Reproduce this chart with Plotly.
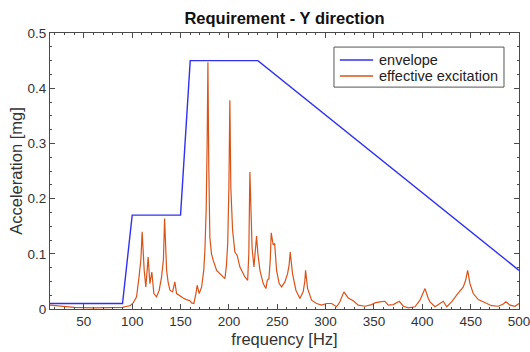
import plotly.graph_objects as go

# Requirement envelope (Y direction)
env_freq = [15, 90, 100, 150, 160, 230, 500]
env_acc = [0.01, 0.01, 0.17, 0.17, 0.45, 0.45, 0.07]

# Effective excitation spectrum
exc_freq = [15, 25, 40, 60, 80, 90, 95, 98, 101, 104.5, 107.2, 109, 110.3, 111.5, 112.4,
            114.1, 116.5, 118.3, 120.3, 122.4, 125.2, 127.9, 130.4, 132.3, 133.5, 134.7,
            135.6, 137.2, 139, 141.8, 144.1, 145.9, 149, 152.7, 156, 159.7, 161.4, 163.8,
            165.9, 167.2, 168.3, 169.3, 171.8, 174, 175.2, 176.5, 177.5, 178.3, 179.2,
            180.3, 182, 183.8, 187.3, 192.4, 195.9, 197.5, 198.8, 200, 201, 202, 203.8,
            206.2, 208.6, 211.4, 216.6, 219.4, 220.6, 221.7, 222.6, 224, 225.9, 227.5,
            228.6, 230, 232.1, 235.5, 238.3, 239.7, 241.4, 242.8, 243.8, 245.8, 247.3,
            249.3, 252, 254.5, 257.9, 260.7, 262.3, 263.4, 265, 265.8, 269.3, 273.4,
            276.8, 278.5, 279.3, 280.3, 281.4, 285.5, 290.7, 295.9, 301, 306.2, 311.4,
            314.8, 318.9, 323.4, 328.6, 333.8, 340.7, 347.6, 351, 356.2, 361.4, 364.8,
            370, 376.2, 380.4, 385.5, 392.4, 397.6, 401, 402.8, 406.2, 408, 413.1, 418.3,
            421.7, 425.2, 430.3, 435.5, 440, 442.4, 444.8, 446.9, 449.3, 452.7, 457.9,
            464.8, 471.7, 478.6, 483.8, 486.5, 490.7, 495.9, 500]
exc_acc = [0.007, 0.005, 0.003, 0.002, 0.002, 0.003, 0.005, 0.006, 0.011, 0.022, 0.06, 0.09,
           0.14, 0.10, 0.07, 0.04, 0.094, 0.046, 0.067, 0.028, 0.022, 0.034, 0.058, 0.09,
           0.164, 0.11, 0.07, 0.048, 0.034, 0.031, 0.049, 0.028, 0.024, 0.02, 0.017, 0.015,
           0.011, 0.01, 0.028, 0.043, 0.035, 0.028, 0.04, 0.07, 0.107, 0.18, 0.3, 0.447,
           0.26, 0.13, 0.1, 0.088, 0.07, 0.061, 0.055, 0.08, 0.12, 0.22, 0.378, 0.22,
           0.143, 0.103, 0.097, 0.076, 0.058, 0.052, 0.1, 0.248, 0.17, 0.11, 0.076, 0.11,
           0.132, 0.1, 0.07, 0.046, 0.037, 0.052, 0.055, 0.09, 0.138, 0.116, 0.119, 0.07,
           0.046, 0.04, 0.049, 0.064, 0.08, 0.103, 0.075, 0.064, 0.034, 0.019, 0.031, 0.05,
           0.07, 0.05, 0.037, 0.016, 0.01, 0.007, 0.01, 0.01, 0.004, 0.013, 0.031, 0.02,
           0.015, 0.007, 0.005, 0.008, 0.011, 0.013, 0.014, 0.007, 0.008, 0.014, 0.005,
           0.002, 0.004, 0.016, 0.03, 0.037, 0.019, 0.013, 0.004, 0.01, 0.014, 0.004,
           0.013, 0.025, 0.035, 0.04, 0.052, 0.07, 0.046, 0.028, 0.017, 0.011, 0.006,
           0.005, 0.009, 0.013, 0.007, 0.005, 0.01]

x_ticks = [50, 100, 150, 200, 250, 300, 350, 400, 450, 500]
y_ticks = [0, 0.1, 0.2, 0.3, 0.4, 0.5]

series_names = ["envelope", "effective excitation"]
series_colors = ["#3030f5", "#d95319"]

FONT = "Liberation Sans, Arial, Helvetica, sans-serif"
AXIS_COLOR = "#4a4a4a"

fig = go.Figure()
fig.add_trace(go.Scatter(x=env_freq, y=env_acc, mode="lines", name=series_names[0],
                         line=dict(color=series_colors[0], width=1.4)))
fig.add_trace(go.Scatter(x=exc_freq, y=exc_acc, mode="lines", name=series_names[1],
                         line=dict(color=series_colors[1], width=1.2)))

axis_common = dict(
    showline=True, linecolor=AXIS_COLOR, linewidth=1, mirror="allticks",
    ticks="inside", ticklen=5, tickcolor=AXIS_COLOR, tickwidth=1,
    showgrid=False, zeroline=False, automargin=False, ticklabeloverflow="allow",
    tickfont=dict(family=FONT, size=13.5, color="#333333"),
)

fig.update_xaxes(
    range=[15, 500], tickvals=x_ticks, ticktext=[str(v) for v in x_ticks],
    minor=dict(ticks="inside", dtick=10, ticklen=2, tickcolor=AXIS_COLOR),
    title=dict(text="frequency [Hz]", font=dict(family=FONT, size=16.5, color="#333333"),
               standoff=5),
    **axis_common,
)
fig.update_yaxes(
    range=[0, 0.5], tickvals=y_ticks, ticktext=["0", "0.1", "0.2", "0.3", "0.4", "0.5"],
    minor=dict(ticks="inside", dtick=0.025, ticklen=2, tickcolor=AXIS_COLOR),
    title=dict(text="Acceleration [mg]", font=dict(family=FONT, size=16.5, color="#333333"),
               standoff=0),
    **axis_common,
)

# Boxed legend in the upper right corner of the axes
box_x0, box_x1, box_y0, box_y1 = 0.6055, 0.968, 0.804, 0.949
sample_x0, sample_x1, label_x = 0.618, 0.689, 0.697
row_y = [0.902, 0.844]

fig.add_shape(type="rect", xref="paper", yref="paper",
              x0=box_x0, x1=box_x1, y0=box_y0, y1=box_y1,
              line=dict(color="#555555", width=1), fillcolor="white", layer="above")
for name, color, yy in zip(series_names, series_colors, row_y):
    fig.add_shape(type="line", xref="paper", yref="paper",
                  x0=sample_x0, x1=sample_x1, y0=yy, y1=yy,
                  line=dict(color=color, width=1.4), layer="above")
    fig.add_annotation(xref="paper", yref="paper", x=label_x, y=yy, text=name,
                       showarrow=False, xanchor="left", yanchor="middle",
                       font=dict(family=FONT, size=14.5, color="#222222"))

fig.update_layout(
    width=530, height=352,
    margin=dict(l=50, r=11, t=33, b=43, autoexpand=False),
    paper_bgcolor="white", plot_bgcolor="white",
    title=dict(text="<b>Requirement - Y direction</b>", x=0.5, xref="paper",
               y=1 - 18 / 352, yref="container", yanchor="middle", xanchor="center",
               font=dict(family=FONT, size=16.5, color="#111111")),
    showlegend=False,
)

fig.write_html("out.html")
